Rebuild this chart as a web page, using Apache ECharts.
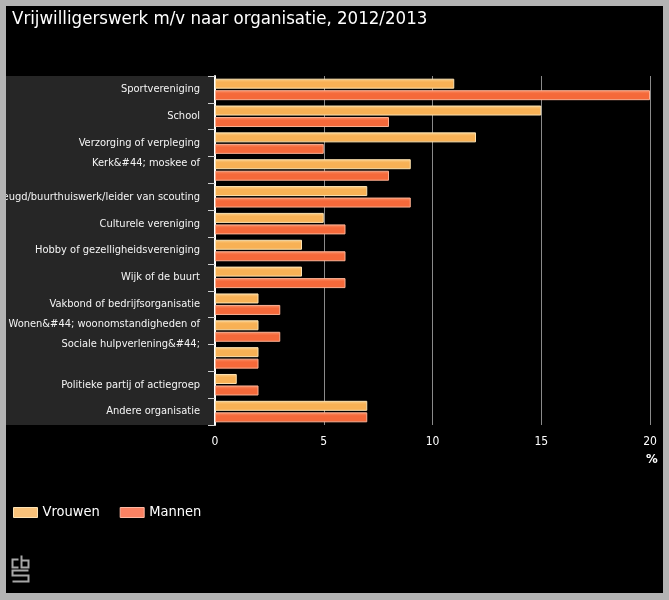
<!DOCTYPE html>
<html>
<head>
<meta charset="utf-8">
<script src="https://cdn.jsdelivr.net/npm/echarts@6/dist/echarts.min.js"></script>
<style>html,body{margin:0;padding:0;background:#000;}#c{width:669px;height:600px;}</style>
</head>
<body>
<div id="c"></div>
<script>
var categories = [
  "Sportvereniging",
  "School",
  "Verzorging of verpleging",
  "Kerk&#44; moskee of",
  "Jeugd/buurthuiswerk/leider van scouting",
  "Culturele vereniging",
  "Hobby of gezelligheidsvereniging",
  "Wijk of de buurt",
  "Vakbond of bedrijfsorganisatie",
  "Wonen&#44; woonomstandigheden of",
  "Sociale hulpverlening&#44;",
  "Politieke partij of actiegroep",
  "Andere organisatie"
];
// number of (invisible) wrapped continuation lines of each label
var extraLines = [0,0,0,1,0,0,0,0,0,1,2,0,0];
var vrouwen = [11, 15, 12, 9, 7, 5, 4, 4, 2, 2, 2, 1, 7];
var mannen  = [20, 8, 5, 8, 9, 6, 6, 6, 3, 3, 2, 2, 7];
var xTicks = [0, 5, 10, 15, 20];
var seriesNames = ["Vrouwen", "Mannen"];

var FONT = "'DejaVu Sans Condensed', 'DejaVu Sans', sans-serif";
var chart = echarts.init(document.getElementById('c'), null, {renderer: 'canvas'});

function grad(top, base) {
  return new echarts.graphic.LinearGradient(0, 0, 0, 1, [
    {offset: 0, color: top}, {offset: 0.35, color: base}, {offset: 1, color: base}
  ]);
}

var option = {
  backgroundColor: '#000',
  animation: false,
  title: {
    text: 'Vrijwilligerswerk m/v naar organisatie, 2012/2013',
    left: 7, top: 5,
    textStyle: {color: '#fff', fontFamily: FONT, fontSize: 18.5, fontWeight: 'normal'}
  },
  grid: {left: 215, right: 19, top: 76, bottom: 175, containLabel: false, outerBoundsMode: 'none'},
  legend: {
    left: 8, top: 500,
    itemWidth: 24, itemHeight: 10, itemGap: 20,
    icon: 'rect',
    textStyle: {color: '#fff', fontFamily: FONT, fontSize: 14.5},
    data: [
      {name: seriesNames[0], itemStyle: {color: '#f9c27a', borderColor: '#fde3b5', borderWidth: 1}},
      {name: seriesNames[1], itemStyle: {color: '#fa8263', borderColor: '#fdb9a4', borderWidth: 1}}
    ]
  },
  xAxis: {
    type: 'value', min: xTicks[0], max: xTicks[xTicks.length - 1], interval: 5,
    axisLine: {show: false}, axisTick: {show: false},
    splitLine: {lineStyle: {color: '#8a8a8a', width: 1}},
    axisLabel: {color: '#fff', fontFamily: FONT, fontSize: 12, margin: 11,
      formatter: function (v) { return xTicks.indexOf(v) >= 0 ? String(v) : ''; }}
  },
  yAxis: {
    type: 'category', inverse: true, data: categories,
    axisLine: {lineStyle: {color: '#ffffff', width: 2}},
    axisTick: {show: true, length: 7, lineStyle: {color: '#cfcfcf', width: 1}},
    axisLabel: {
      color: '#f4f4f4', fontFamily: FONT, fontSize: 11, margin: 15, lineHeight: 14,
      formatter: function (v, i) {
        var s = v;
        for (var k = 0; k < extraLines[i]; k++) s += '\n ';
        return s;
      }
    }
  },
  graphic: [
    {type: 'rect', z: -10, silent: true, shape: {x: 6, y: 76, width: 208, height: 349}, style: {fill: '#262626'}},
    {type: 'text', left: 646, top: 453, style: {text: '%', fill: '#fff', font: 'bold 13px ' + FONT}},
    // CBS logo
    {type: 'group', left: 10, top: 553, children: [
      {type: 'polyline', shape: {points: [[7,4],[1,4],[1,12],[7,12]]}, style: {stroke: '#a8a8a8', lineWidth: 2, fill: null}},
      {type: 'polyline', shape: {points: [[10,0],[10,12],[17,12],[17,5],[10,5]]}, style: {stroke: '#a8a8a8', lineWidth: 2, fill: null}},
      {type: 'polyline', shape: {points: [[17,15],[1,15],[1,20],[17,20],[17,26],[1,26]]}, style: {stroke: '#a8a8a8', lineWidth: 2, fill: null}}
    ]},
    // outer grey frame
    {type: 'rect', z: 100, silent: true, shape: {x: 0, y: 0, width: 669, height: 6}, style: {fill: '#b3b3b3'}},
    {type: 'rect', z: 100, silent: true, shape: {x: 0, y: 593, width: 669, height: 7}, style: {fill: '#b3b3b3'}},
    {type: 'rect', z: 100, silent: true, shape: {x: 0, y: 0, width: 6, height: 600}, style: {fill: '#b3b3b3'}},
    {type: 'rect', z: 100, silent: true, shape: {x: 663, y: 0, width: 6, height: 600}, style: {fill: '#b3b3b3'}}
  ],
  series: [
    {
      name: seriesNames[0], type: 'bar', data: vrouwen, barWidth: 10, barGap: '15%',
      itemStyle: {color: grad('#fcd08a', '#f8b155'), borderColor: '#fde2b0', borderWidth: 1}
    },
    {
      name: seriesNames[1], type: 'bar', data: mannen, barWidth: 10, barGap: '15%',
      itemStyle: {color: grad('#fb9168', '#f5693a'), borderColor: '#fcb093', borderWidth: 1}
    }
  ]
};
chart.setOption(option);
</script>
</body>
</html>
